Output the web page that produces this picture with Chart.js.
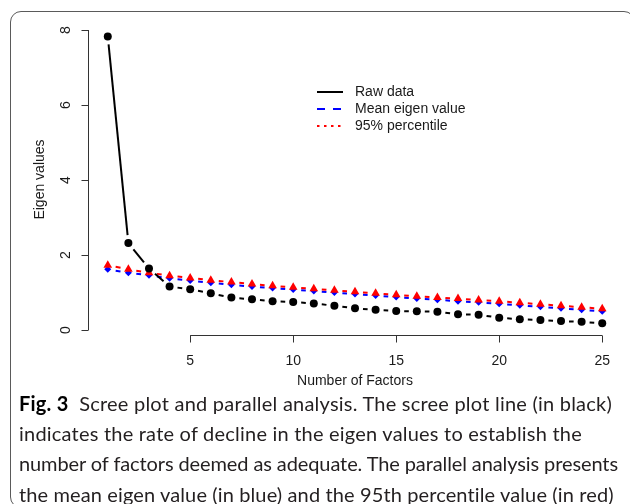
<!DOCTYPE html>
<html>
<head>
<meta charset="utf-8">
<script src="https://cdn.jsdelivr.net/npm/chart.js@4.4.1/dist/chart.umd.min.js"></script>
<style>
  html, body { margin: 0; padding: 0; background: #fff; }
  #page { position: relative; width: 630px; height: 504px; overflow: hidden; }
  #frame { position: absolute; left: 10px; top: 11px; width: 625px; height: 497px;
           border: 1.5px solid #5a5a5a; border-radius: 11px; box-sizing: border-box; }
  #plot { position: absolute; left: 0; top: 0; }
  #caption { position: absolute; left: 19px; top: 388px; font-family: Lato, "Open Sans", sans-serif;
             font-size: 20px; line-height: 30.2px; color: #231f20; white-space: nowrap; }
  #caption .ln { display: block; width: max-content; }
  #caption b { font-weight: 700; color: #000; }
</style>
</head>
<body>
<div id="page">
  <div id="frame"></div>
  <canvas id="plot" width="630" height="395"></canvas>
  <div id="caption">
    <div class="ln" data-w="593"><b>Fig. 3</b>&nbsp; Scree plot and parallel analysis. The scree plot line (in black)</div>
    <div class="ln" data-w="563">indicates the rate of decline in the eigen values to establish the</div>
    <div class="ln" data-w="599">number of factors deemed as adequate. The parallel analysis presents</div>
    <div class="ln" data-w="595">the mean eigen value (in blue) and the 95th percentile value (in red)</div>
  </div>
</div>
<script>
// --- data ---
const factors = [1, 2, 3, 4, 5, 6, 7, 8, 9, 10, 11, 12, 13, 14, 15, 16, 17, 18, 19, 20, 21, 22, 23, 24, 25];
const rawData = [7.83, 2.32, 1.64, 1.16, 1.09, 0.98, 0.87, 0.82, 0.77, 0.75, 0.71, 0.65, 0.58, 0.54, 0.51,
                 0.50, 0.49, 0.42, 0.41, 0.33, 0.29, 0.27, 0.24, 0.22, 0.18];
const meanEigen = [1.62, 1.53, 1.46, 1.38, 1.32, 1.26, 1.21, 1.16, 1.12, 1.08, 1.04, 1.00, 0.96, 0.92, 0.88,
                   0.84, 0.81, 0.77, 0.74, 0.70, 0.66, 0.62, 0.58, 0.54, 0.50];
const pct95 = [1.73, 1.62, 1.53, 1.45, 1.39, 1.33, 1.28, 1.23, 1.18, 1.14, 1.10, 1.06, 1.02, 0.98, 0.94,
               0.90, 0.87, 0.84, 0.80, 0.77, 0.73, 0.69, 0.65, 0.61, 0.57];
const xTicks = [5, 10, 15, 20, 25];
const yTicks = [0, 2, 4, 6, 8];
const seriesNames = ['Raw data', 'Mean eigen value', '95% percentile'];

const ink = '#1a1a1a';
const axisColor = '#333';
const baseFont = '"Liberation Sans", Arial, sans-serif';

// R type="b": line segments stop short of the points
function gapDash(gap) {
    return ctx => {
        const len = Math.hypot(ctx.p1.x - ctx.p0.x, ctx.p1.y - ctx.p0.y);
        return [0, gap, Math.max(len - 2 * gap, 0), gap];
    };
}
const pts = arr => arr.map((v, i) => ({ x: factors[i], y: v }));

// axes, titles and legend drawn the way base R does them
const rAxes = {
    id: 'rAxes',
    afterDraw(chart) {
        const { ctx, chartArea: a, scales: { x, y } } = chart;
        ctx.save();
        ctx.strokeStyle = axisColor;
        ctx.lineWidth = 1;
        ctx.fillStyle = ink;
        ctx.font = '14px ' + baseFont;

        // x axis
        const ax = Math.round(a.bottom) + 0.5;
        ctx.beginPath();
        ctx.moveTo(x.getPixelForValue(xTicks[0]), ax);
        ctx.lineTo(x.getPixelForValue(xTicks[xTicks.length - 1]), ax);
        xTicks.forEach(t => {
            const px = Math.round(x.getPixelForValue(t)) + 0.5;
            ctx.moveTo(px, ax);
            ctx.lineTo(px, ax + 7);
        });
        ctx.stroke();
        ctx.textAlign = 'center';
        ctx.textBaseline = 'middle';
        xTicks.forEach(t => ctx.fillText(String(t), x.getPixelForValue(t), 361));
        ctx.fillText('Number of Factors', (a.left + a.right) / 2, 381);

        // y axis
        const ay = Math.round(a.left) + 0.5;
        ctx.beginPath();
        ctx.moveTo(ay, y.getPixelForValue(yTicks[0]));
        ctx.lineTo(ay, y.getPixelForValue(yTicks[yTicks.length - 1]));
        yTicks.forEach(t => {
            const py = Math.round(y.getPixelForValue(t)) + 0.5;
            ctx.moveTo(ay, py);
            ctx.lineTo(ay - 7, py);
        });
        ctx.stroke();
        yTicks.forEach(t => {
            ctx.save();
            ctx.translate(66, y.getPixelForValue(t));
            ctx.rotate(-Math.PI / 2);
            ctx.fillText(String(t), 0, 0);
            ctx.restore();
        });
        ctx.save();
        ctx.translate(40, (a.top + a.bottom) / 2);
        ctx.rotate(-Math.PI / 2);
        ctx.fillText('Eigen values', 0, 0);
        ctx.restore();

        // legend
        const dashes = [[], [8, 8], [2.5, 4.5]];
        const order = [0, 2, 1]; // dataset index for each legend row
        ctx.textAlign = 'left';
        order.forEach((di, row) => {
            const ds = chart.data.datasets[di];
            const ly = [92, 109, 126][row];
            ctx.save();
            ctx.strokeStyle = ds.borderColor;
            ctx.lineWidth = 2;
            ctx.setLineDash(dashes[row]);
            ctx.beginPath();
            ctx.moveTo(317, ly);
            ctx.lineTo(343, ly);
            ctx.stroke();
            ctx.restore();
            ctx.fillText(ds.label, 355, ly);
        });
        ctx.restore();
    }
};

new Chart(document.getElementById('plot'), {
    type: 'line',
    data: {
        datasets: [
            {
                label: seriesNames[0], data: pts(rawData),
                borderColor: '#000', backgroundColor: '#000', borderWidth: 2,
                pointStyle: 'circle', pointRadius: 4, pointBorderWidth: 0,
                segment: { borderDash: gapDash(8) }
            },
            {
                label: seriesNames[2], data: pts(pct95),
                borderColor: '#ff0000', backgroundColor: '#ff0000', borderWidth: 2,
                pointStyle: 'triangle', pointRadius: 5, pointBorderWidth: 0,
                segment: { borderDash: gapDash(8) }
            },
            {
                label: seriesNames[1], data: pts(meanEigen),
                borderColor: '#0000ff', backgroundColor: '#0000ff', borderWidth: 2,
                pointStyle: 'rectRot', pointRadius: 3.5, pointBorderWidth: 0,
                segment: { borderDash: gapDash(8) }
            }
        ]
    },
    options: {
        responsive: false,
        animation: false,
        devicePixelRatio: 1,
        layout: { padding: { left: 88, top: 24, right: 8, bottom: 60 } },
        scales: {
            x: { type: 'linear', min: 0.04, max: 25.96, display: false },
            y: { type: 'linear', min: -0.13, max: 8.16, display: false }
        },
        plugins: { legend: { display: false }, tooltip: { enabled: false } },
        elements: { line: { tension: 0 } }
    },
    plugins: [rAxes]
});

// squeeze/stretch the caption lines to the widths of the printed figure
function fitCaption() {
    document.querySelectorAll('#caption .ln').forEach(el => {
        el.style.letterSpacing = '0px';
        const target = +el.dataset.w;
        const w = el.getBoundingClientRect().width;
        const n = el.textContent.length;
        el.style.letterSpacing = ((target - w) / n).toFixed(3) + 'px';
    });
}
fitCaption();
if (document.fonts) document.fonts.ready.then(fitCaption);
</script>
</body>
</html>
